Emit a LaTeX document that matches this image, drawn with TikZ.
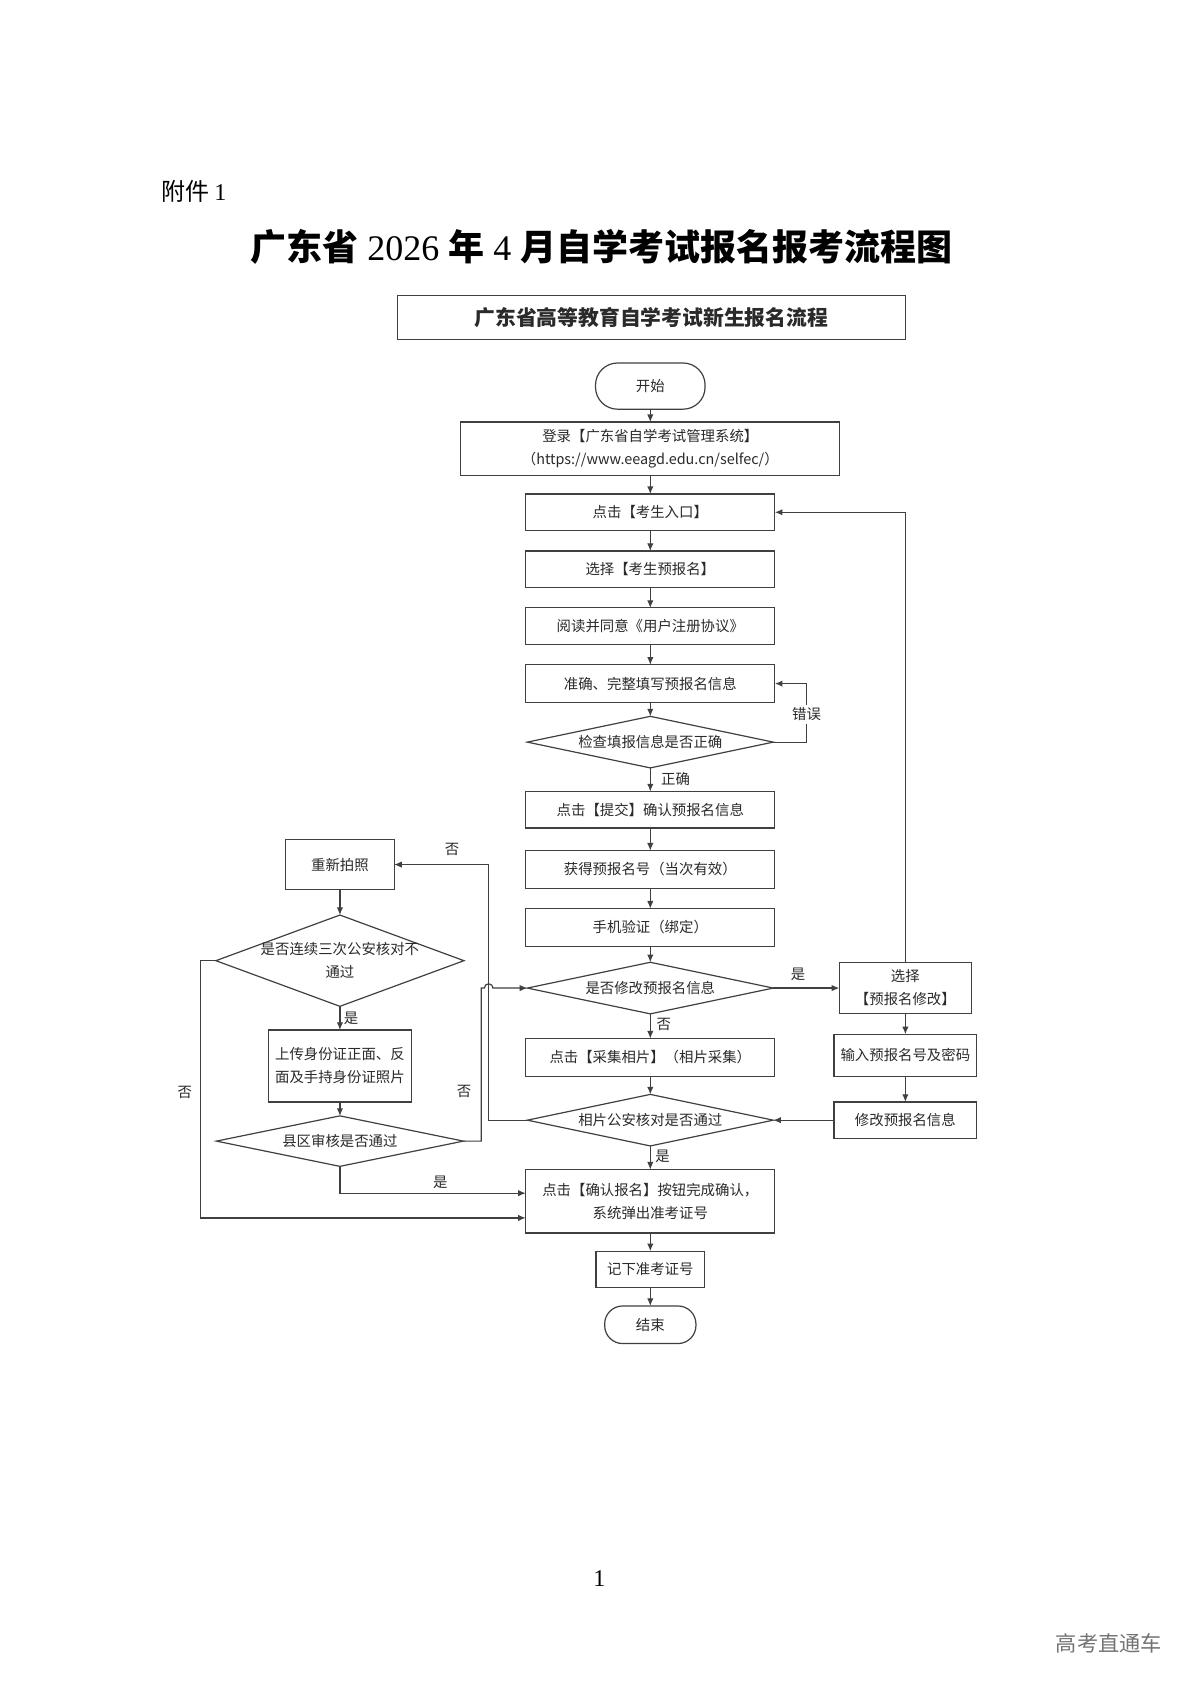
\documentclass[tikz,border=0pt]{standalone}
\usepackage{fontspec}
\setmainfont{Liberation Serif}
\newfontfamily\cjk{Noto Sans CJK SC}
\usetikzlibrary{shapes.geometric,arrows.meta}
\definecolor{linec}{HTML}{404040}
\definecolor{txtc}{HTML}{2A2A2A}
\def\U{0.537pt}
\begin{document}
\begin{tikzpicture}[x=0.537pt,y=-0.537pt,
  every node/.style={inner sep=0pt, outer sep=0pt},
  nfont/.style={font=\cjk\fontsize{7.2pt}{11.5pt}\selectfont, text=txtc},
  box/.style={nfont, draw=linec, line width=0.6pt, rectangle, align=center},
  term/.style={box},
  dia/.style={draw=linec, line width=0.6pt, diamond},
  dtext/.style={nfont, align=center},
  arr/.style={draw=linec, line width=0.6pt, -{Latex[length=3.8pt,width=3.2pt]}},
  ln/.style={draw=linec, line width=0.6pt},
  lbl/.style={nfont}
]
\fill[white] (0,0) rectangle (1109,1568);
\useasboundingbox (0,0) rectangle (1109,1568);

% page texts
\node[anchor=west, font=\cjk\fontsize{12pt}{14pt}\selectfont] (fj) at (150,178) {附件 {\rmfamily 1}};
\node[font=\fontsize{18pt}{20pt}\selectfont] (title) at (560,230)
  {{\cjk\bfseries 广东省} 2026 {\cjk\bfseries 年} 4 {\cjk\bfseries 月自学考试报名报考流程图}};
\node[font=\fontsize{12pt}{14pt}\selectfont] (pg) at (558,1470) {1};
\node[font=\cjk\fontsize{10.6pt}{12pt}\selectfont, text=black!55] (wm) at (1032.5,1530) {高考直通车};

% header
\node[box, minimum width=473*\U, minimum height=41*\U, font=\cjk\bfseries\fontsize{10.4pt}{12pt}\selectfont] (hdr) at (606.5,295.5) {广东省高等教育自学考试新生报名流程};

% main column
\node[term, rounded corners=11pt, minimum width=102*\U, minimum height=43*\U] (start) at (605.5,359.5) {开始};
\node[box, minimum width=353*\U, minimum height=50*\U] (login) at (605.5,418) {登录【广东省自学考试管理系统】\\（https://www.eeagd.edu.cn/selfec/）};
\node[box, minimum width=232*\U, minimum height=34*\U] (s1) at (605.5,477) {点击【考生入口】};
\node[box, minimum width=232*\U, minimum height=34*\U] (s2) at (605.5,530) {选择【考生预报名】};
\node[box, minimum width=232*\U, minimum height=34*\U] (s3) at (605.5,583) {阅读并同意《用户注册协议》};
\node[box, minimum width=232*\U, minimum height=35*\U] (s4) at (605.5,636.5) {准确、完整填写预报名信息};
\node[dia, minimum width=229*\U, minimum height=48*\U, label={[dtext]center:检查填报信息是否正确}] (d1) at (605.5,691) {};
\node[box, minimum width=232*\U, minimum height=34*\U] (s5) at (605.5,754) {点击【提交】确认预报名信息};
\node[box, minimum width=232*\U, minimum height=35*\U] (s6) at (605.5,809.5) {获得预报名号（当次有效）};
\node[box, minimum width=232*\U, minimum height=35*\U] (s7) at (605.5,863.5) {手机验证（绑定）};
\node[dia, minimum width=229*\U, minimum height=48*\U, label={[dtext]center:是否修改预报名信息}] (d2) at (605.5,920) {};
\node[box, minimum width=232*\U, minimum height=35*\U] (s8) at (605.5,984.5) {点击【采集相片】（相片采集）};
\node[dia, minimum width=229*\U, minimum height=48*\U, label={[dtext]center:相片公安核对是否通过}] (d3) at (605.5,1043) {};
\node[box, minimum width=232*\U, minimum height=59*\U] (s9) at (605.5,1118.5) {点击【确认报名】按钮完成确认，\\系统弹出准考证号};
\node[box, minimum width=101*\U, minimum height=34*\U] (s10) at (605.5,1182) {记下准考证号};
\node[term, rounded corners=9pt, minimum width=85*\U, minimum height=35*\U] (end) at (605.5,1233.5) {结束};

% right column
\node[box, minimum width=123*\U, minimum height=48*\U] (r1) at (843,920) {选择\\【预报名修改】};
\node[box, minimum width=133*\U, minimum height=39*\U] (r2) at (843,982.5) {输入预报名号及密码};
\node[box, minimum width=133*\U, minimum height=34*\U] (r3) at (843,1043) {修改预报名信息};

% left column
\node[box, minimum width=101*\U, minimum height=46*\U] (l1) at (316.5,805) {重新拍照};
\node[dia, minimum width=231*\U, minimum height=85*\U, label={[dtext]center:是否连续三次公安核对不\\通过}] (ld1) at (316.5,894.5) {};
\node[box, minimum width=133*\U, minimum height=67*\U] (l2) at (316.5,992.5) {上传身份证正面、反\\面及手持身份证照片};
\node[dia, minimum width=230*\U, minimum height=47*\U, label={[dtext]center:县区审核是否通过}] (ld2) at (316.5,1062.5) {};

% bend coordinates
\coordinate (ex) at (751,0);
\coordinate (cx1) at (455,0);
\coordinate (cx2) at (448,0);
\coordinate (cx3) at (187,0);
\coordinate (y1) at (0,1111);
\coordinate (y2) at (0,1134);

% main connectors
\draw[arr] (start) -- (login);
\draw[arr] (login) -- (s1);
\draw[arr] (s1) -- (s2);
\draw[arr] (s2) -- (s3);
\draw[arr] (s3) -- (s4);
\draw[arr] (s4) -- (d1);
\draw[arr] (d1) -- (s5);
\draw[arr] (s5) -- (s6);
\draw[arr] (s6) -- (s7);
\draw[arr] (s7) -- (d2);
\draw[arr] (d2) -- (s8);
\draw[arr] (s8) -- (d3);
\draw[arr] (d3) -- (s9);
\draw[arr] (s9) -- (s10);
\draw[arr] (s10) -- (end);

% error loop
\draw[arr] (d1.east) -- (d1.east -| ex) |- (s4.east);
\node[lbl, fill=white, inner sep=1.5pt] (lerr) at (751,665) {错误};
\node[lbl] (lok) at (629,725) {正确};

% modify branch
\draw[arr] (d2.east) -- (r1.west);
\node[lbl] (lyes1) at (743,907) {是};
\node[lbl] (lno1) at (618,954) {否};
\draw[arr] (r1.north) |- (s1.east);
\draw[arr] (r1) -- (r2);
\draw[arr] (r2) -- (r3);
\draw[arr] (r3.west) -- (d3.east);
\node[lbl] (lyes2) at (617,1077) {是};

% photo check fail
\draw[arr] (d3.west) -- (d3.west -| cx1) |- (l1.east);
\node[lbl] (lno2) at (421,791) {否};
\draw[arr] (l1) -- (ld1);
\draw[arr] (ld1) -- (l2);
\node[lbl] (lyes3) at (327,948) {是};
\draw[arr] (l2) -- (ld2);

% county review fail -> back to modify decision (with hop)
\draw[arr] (ld2.east) -- (ld2.east -| cx2) -- (cx2 |- d2.west) -- ++(3,0)
  arc[start angle=180, end angle=0, radius=4*\U] -- (d2.west);
\node[lbl] (lno3) at (432,1016) {否};

% county review pass
\draw[arr] (ld2.south) |- (s9.west |- y1);
\node[lbl] (lyes4) at (410,1101) {是};

% three-times fail
\draw[arr] (ld1.west) -- (ld1.west -| cx3) -- (cx3 |- y2) -- (s9.west |- y2);
\node[lbl] (lno4) at (172,1017) {否};
\end{tikzpicture}
\end{document}
